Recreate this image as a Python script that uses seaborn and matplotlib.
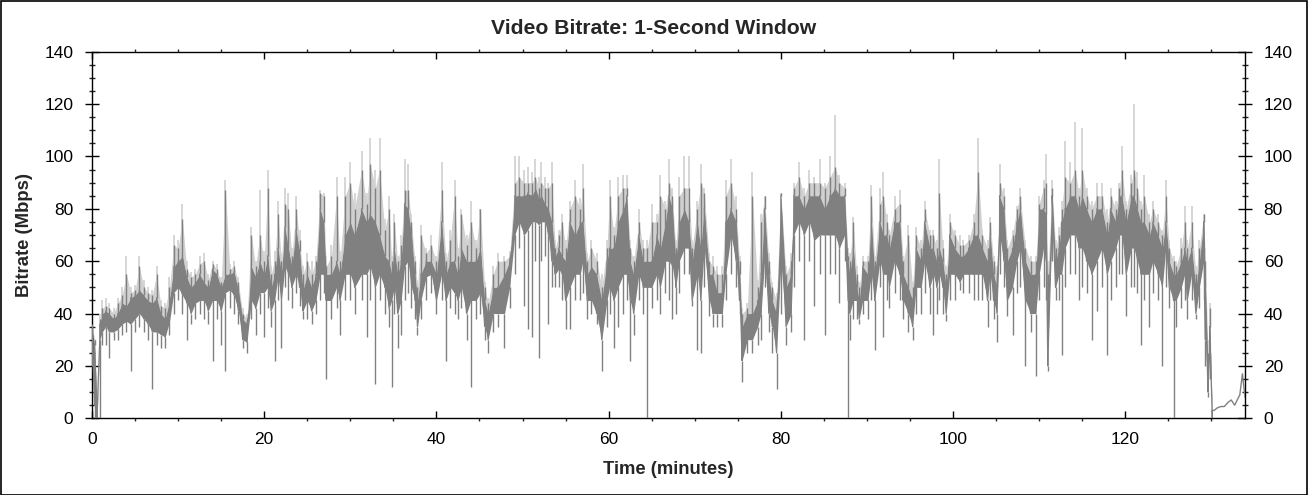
import numpy as np
import pandas as pd
import seaborn as sns
import matplotlib
matplotlib.use("Agg")
import matplotlib.pyplot as plt
from matplotlib.patches import Rectangle
from matplotlib.ticker import MultipleLocator

# ---- data (minutes, Mbps) ----
rows = [
    (0.0, 25, 34, 36, 36, 20), (0.3, 5, 28, 30, 30, 0), (0.6, 0, 3, 3, 3, 0), (0.9, 30, 36, 38, 40, 0),
    (1.2, 33, 40, 42, 45, 28), (1.6, 35, 41, 43, 46, 28), (2.0, 33, 40, 42, 44, 23), (2.5, 33, 38, 40, 42, 30),
    (3.0, 34, 40, 44, 46, 30), (3.5, 36, 44, 47, 50, 32), (4.0, 37, 43, 55, 62, 33), (4.5, 36, 46, 48, 50, 18),
    (5.0, 38, 47, 49, 51, 33), (5.5, 40, 49, 58, 62, 35), (6.0, 38, 47, 50, 53, 33), (6.5, 36, 45, 48, 50, 30),
    (7.0, 33, 44, 47, 49, 11), (7.5, 33, 46, 55, 58, 28), (8.0, 32, 40, 43, 45, 27), (8.5, 31, 38, 42, 44, 27),
    (9.0, 37, 45, 50, 54, 32), (9.5, 48, 58, 66, 70, 40), (10.0, 50, 60, 65, 68, 45), (10.5, 47, 62, 76, 82, 40),
    (11.0, 44, 54, 57, 60, 30), (11.5, 40, 50, 54, 56, 36), (12.0, 44, 52, 55, 57, 38), (12.5, 45, 55, 59, 62, 40),
    (13.0, 45, 52, 60, 63, 38), (13.5, 41, 50, 53, 55, 36), (14.0, 45, 57, 59, 60, 22), (14.5, 45, 55, 57, 59, 38),
    (15.0, 41, 50, 52, 54, 28), (15.5, 48, 55, 87, 91, 18), (16.0, 49, 55, 57, 59, 42), (16.5, 47, 56, 58, 60, 40),
    (17.0, 41, 49, 52, 54, 36), (17.5, 30, 38, 40, 42, 27), (18.0, 29, 36, 38, 40, 25), (18.5, 45, 58, 70, 73, 38),
    (19.0, 42, 54, 58, 60, 32), (19.5, 48, 60, 70, 87, 40), (20.0, 48, 55, 60, 64, 31), (20.4, 50, 62, 88, 95, 42),
    (20.8, 41, 50, 55, 58, 35), (21.2, 45, 55, 60, 64, 22), (21.6, 54, 65, 78, 83, 45), (22.0, 45, 55, 60, 63, 27),
    (22.4, 58, 73, 82, 88, 50), (22.8, 55, 65, 80, 86, 45), (23.2, 50, 58, 62, 65, 42), (23.7, 55, 72, 80, 85, 48),
    (24.1, 50, 64, 68, 72, 43), (24.5, 41, 49, 55, 58, 38), (25.0, 45, 55, 60, 63, 38), (25.5, 41, 50, 55, 60, 36),
    (26.0, 45, 55, 60, 62, 40), (26.5, 55, 80, 86, 87, 45), (26.9, 55, 75, 85, 86, 48), (27.2, 45, 55, 58, 62, 15),
    (27.8, 45, 55, 62, 66, 38), (28.4, 50, 60, 85, 92, 42), (28.8, 45, 55, 60, 64, 32), (29.4, 55, 70, 85, 92, 45),
    (30.0, 55, 75, 90, 98, 45), (30.5, 50, 70, 80, 86, 40), (31.3, 55, 80, 95, 102, 45), (31.9, 55, 75, 82, 86, 31),
    (32.3, 58, 78, 97, 107, 45), (32.9, 50, 75, 88, 95, 13), (33.4, 55, 70, 95, 107, 45), (34.0, 50, 62, 72, 76, 40),
    (34.5, 42, 60, 80, 85, 35), (34.8, 45, 55, 60, 62, 12), (35.1, 50, 65, 75, 78, 40), (35.5, 40, 55, 60, 62, 27),
    (35.9, 45, 60, 66, 70, 32), (36.3, 58, 82, 87, 99, 45), (36.7, 60, 80, 87, 97, 48), (37.1, 50, 70, 75, 78, 42),
    (37.5, 45, 55, 60, 62, 38), (37.8, 35, 45, 50, 53, 32), (38.2, 45, 55, 70, 74, 38), (38.8, 54, 60, 63, 65, 45),
    (39.4, 55, 60, 66, 70, 48), (40.0, 45, 55, 60, 62, 40), (40.6, 55, 75, 87, 98, 45), (41.1, 45, 55, 60, 63, 22),
    (41.6, 50, 60, 68, 72, 42), (42.1, 48, 60, 85, 91, 40), (42.5, 45, 55, 62, 65, 38), (42.9, 50, 65, 78, 80, 42),
    (43.5, 40, 60, 66, 70, 30), (44.0, 45, 60, 75, 83, 12), (44.6, 45, 60, 65, 68, 38), (45.1, 48, 65, 80, 80, 40),
    (45.6, 35, 45, 50, 52, 30), (46.0, 30, 40, 44, 46, 25), (46.6, 40, 50, 55, 58, 33), (47.1, 40, 50, 60, 63, 35),
    (47.9, 40, 55, 60, 62, 27), (48.5, 50, 60, 62, 64, 42), (49.1, 70, 85, 90, 100, 55), (49.6, 75, 85, 92, 100, 65),
    (50.2, 70, 85, 90, 95, 43), (50.6, 72, 86, 90, 96, 34), (51.1, 75, 85, 90, 94, 31), (51.5, 75, 88, 92, 99, 60),
    (51.9, 74, 84, 88, 92, 23), (52.2, 75, 85, 90, 98, 60), (52.6, 75, 82, 88, 92, 62), (53.0, 70, 80, 88, 90, 36),
    (53.4, 60, 75, 90, 98, 50), (53.8, 55, 62, 65, 68, 50), (54.2, 57, 65, 70, 72, 50), (54.6, 55, 62, 75, 78, 45),
    (55.0, 45, 60, 65, 68, 34), (55.5, 50, 75, 80, 83, 34), (56.1, 55, 70, 85, 91, 45), (56.7, 55, 75, 80, 84, 45),
    (57.0, 60, 75, 88, 97, 48), (57.5, 45, 55, 60, 63, 38), (58.0, 45, 58, 65, 68, 40), (58.6, 40, 55, 60, 63, 36),
    (59.2, 30, 45, 50, 55, 18), (59.8, 45, 60, 65, 68, 35), (60.1, 50, 65, 85, 91, 40), (60.6, 45, 65, 70, 73, 27),
    (61.1, 50, 75, 85, 92, 35), (61.7, 55, 80, 88, 93, 40), (62.1, 55, 85, 88, 93, 45), (62.5, 45, 60, 65, 68, 22),
    (62.9, 40, 55, 60, 62, 32), (63.5, 55, 70, 75, 80, 45), (64.0, 50, 60, 65, 68, 40), (64.5, 50, 60, 65, 68, 0),
    (65.0, 50, 60, 75, 82, 42), (65.6, 55, 70, 75, 78, 45), (66.0, 50, 65, 85, 93, 40), (66.6, 60, 75, 80, 83, 48),
    (67.0, 60, 85, 90, 99, 45), (67.4, 58, 80, 85, 88, 38), (67.8, 50, 60, 65, 68, 40), (68.2, 60, 75, 85, 92, 48),
    (68.8, 65, 80, 88, 100, 55), (69.3, 65, 75, 88, 100, 55), (69.7, 45, 60, 65, 68, 43), (70.3, 55, 75, 80, 83, 26),
    (70.7, 45, 65, 90, 97, 25), (71.1, 65, 80, 86, 88, 50), (71.7, 45, 55, 60, 63, 39), (72.1, 40, 55, 58, 62, 35),
    (72.6, 40, 48, 55, 58, 35), (73.2, 40, 48, 55, 58, 35), (73.6, 55, 75, 85, 91, 45), (74.2, 70, 80, 90, 99, 55),
    (74.8, 60, 75, 80, 85, 50), (75.2, 45, 55, 60, 62, 40), (75.5, 22, 35, 40, 42, 14), (76.1, 30, 40, 42, 44, 25),
    (76.7, 30, 40, 85, 94, 25), (77.3, 35, 45, 50, 53, 28), (77.7, 40, 55, 75, 78, 30), (78.1, 60, 80, 85, 85, 50),
    (78.6, 40, 55, 60, 63, 33), (79.0, 35, 45, 50, 52, 25), (79.5, 25, 40, 45, 48, 11), (80.0, 60, 85, 86, 86, 40),
    (80.6, 35, 50, 55, 58, 28), (81.2, 40, 55, 60, 63, 33), (81.5, 70, 85, 88, 90, 50), (82.1, 75, 85, 92, 98, 60),
    (82.7, 70, 80, 85, 88, 30), (83.3, 75, 85, 90, 95, 60), (83.9, 68, 85, 90, 92, 43), (84.5, 70, 85, 90, 99, 55),
    (85.1, 70, 80, 88, 90, 32), (85.7, 70, 85, 92, 100, 55), (86.3, 70, 88, 96, 116, 55), (86.8, 65, 85, 90, 93, 44),
    (87.4, 70, 85, 88, 90, 60), (87.8, 45, 60, 62, 65, 0), (88.0, 40, 55, 60, 63, 30), (88.4, 45, 65, 75, 77, 38),
    (88.8, 45, 50, 55, 58, 38), (89.1, 38, 45, 50, 52, 36), (89.5, 45, 58, 60, 62, 40), (90.1, 45, 55, 60, 62, 38),
    (90.5, 55, 75, 85, 89, 45), (90.9, 45, 55, 60, 62, 26), (91.5, 60, 75, 82, 88, 50), (91.9, 55, 70, 85, 94, 31),
    (92.3, 55, 70, 75, 78, 45), (92.6, 50, 65, 70, 72, 42), (93.2, 60, 75, 80, 85, 48), (93.8, 55, 75, 82, 87, 45),
    (94.2, 45, 55, 60, 62, 38), (94.8, 40, 50, 70, 74, 33), (95.3, 35, 45, 50, 52, 30), (95.7, 50, 65, 70, 73, 40),
    (96.3, 50, 60, 65, 68, 40), (96.7, 60, 75, 80, 83, 48), (97.3, 50, 65, 70, 72, 40), (97.7, 55, 65, 70, 72, 32),
    (98.1, 50, 60, 65, 68, 40), (98.4, 55, 65, 86, 99, 45), (98.8, 50, 60, 65, 68, 40), (99.2, 40, 50, 55, 58, 37),
    (99.6, 55, 70, 75, 78, 45), (100.2, 55, 65, 70, 72, 45), (100.8, 52, 62, 66, 70, 49), (101.2, 55, 62, 66, 68, 48),
    (101.8, 55, 65, 68, 70, 48), (102.4, 55, 70, 75, 78, 45), (102.9, 55, 70, 94, 107, 45), (103.4, 55, 65, 70, 72, 45),
    (104.0, 45, 60, 65, 68, 35), (104.3, 55, 70, 75, 77, 45), (104.7, 45, 55, 60, 62, 38), (105.1, 40, 50, 55, 58, 29),
    (105.4, 70, 85, 90, 97, 55), (105.9, 60, 80, 85, 88, 50), (106.3, 45, 60, 65, 68, 39), (106.9, 50, 65, 70, 72, 32),
    (107.4, 60, 75, 80, 81, 48), (107.8, 65, 80, 85, 88, 50), (108.4, 45, 60, 65, 68, 20), (109.0, 40, 55, 60, 62, 33),
    (109.6, 40, 55, 60, 62, 16), (110.0, 55, 80, 82, 85, 45), (110.5, 65, 80, 88, 91, 50), (110.8, 60, 78, 90, 101, 45),
    (111.0, 20, 35, 55, 60, 18), (111.5, 75, 85, 88, 91, 60), (111.9, 50, 60, 65, 68, 45), (112.3, 55, 65, 70, 73, 45),
    (112.6, 55, 75, 80, 83, 24), (113.0, 65, 80, 92, 106, 50), (113.6, 70, 85, 90, 98, 55), (114.2, 70, 85, 95, 113, 55),
    (114.6, 65, 80, 85, 88, 45), (115.0, 65, 85, 95, 111, 50), (115.5, 60, 80, 85, 88, 48), (116.1, 55, 75, 80, 83, 30),
    (116.7, 60, 80, 85, 90, 41), (117.3, 65, 80, 85, 90, 50), (117.9, 55, 70, 75, 80, 24), (118.3, 60, 80, 85, 88, 45),
    (118.9, 65, 75, 80, 83, 50), (119.3, 70, 85, 88, 90, 55), (119.6, 70, 85, 95, 104, 55), (120.1, 55, 75, 80, 83, 39),
    (120.7, 65, 85, 90, 93, 50), (121.0, 65, 85, 95, 120, 50), (121.4, 60, 80, 88, 94, 48), (121.8, 55, 75, 80, 83, 28),
    (122.2, 55, 75, 85, 93, 45), (122.8, 55, 70, 75, 78, 35), (123.2, 60, 75, 80, 83, 48), (123.8, 55, 70, 75, 78, 45),
    (124.3, 50, 65, 70, 72, 20), (124.7, 65, 75, 85, 91, 50), (125.1, 50, 60, 65, 68, 42), (125.6, 45, 55, 60, 62, 0),
    (125.9, 45, 55, 58, 60, 35), (126.5, 50, 60, 65, 69, 42), (126.9, 55, 65, 75, 81, 45), (127.2, 45, 60, 65, 68, 38),
    (127.7, 55, 65, 75, 81, 45), (128.2, 40, 50, 55, 58, 38), (128.6, 50, 60, 65, 68, 42), (129.1, 60, 75, 78, 78, 45),
    (129.3, 30, 50, 60, 65, 20), (129.6, 10, 20, 25, 30, 8), (129.8, 25, 35, 42, 44, 15), (130.1, 0, 3, 3, 3, 0),
]
minutes = [r[0] for r in rows]
band_lo = [r[1] for r in rows]
band_hi = [r[2] for r in rows]
dark_peak = [r[3] for r in rows]
light_peak = [r[4] for r in rows]
dip_low = [r[5] for r in rows]

tail_minutes = [130.1, 130.3, 130.7, 131.1, 131.5, 131.9, 132.3, 132.7, 133.0, 133.3, 133.6, 133.9]
tail_mbps = [3, 3, 4, 4.5, 4.5, 6, 7, 5, 7, 9, 17, 8]

x_ticks = [0, 20, 40, 60, 80, 100, 120]
y_ticks = [0, 20, 40, 60, 80, 100, 120, 140]

# ---- style ----
sns.set_style("white")
plt.rcParams["font.family"] = ["Liberation Sans", "DejaVu Sans"]

DARK = "#808080"
LIGHT = "#d0d0d0"

fig = plt.figure(figsize=(13.08, 4.95), dpi=100)
ax = fig.add_axes([92 / 1308, 76.7 / 495, (1245 - 92) / 1308, (418.3 - 51.7) / 495])

df = pd.DataFrame({"t": minutes, "lo": band_lo, "hi": band_hi,
                   "dpk": dark_peak, "lpk": light_peak, "dip": dip_low})

# light halo above the core band, and light peaks (behind)
ax.fill_between(df["t"], df["hi"], df["dpk"], color=LIGHT, linewidth=0, zorder=1)
ax.vlines(df["t"], df["hi"], df["lpk"], color=LIGHT, linewidth=1.2, zorder=1)
# dark core band
ax.fill_between(df["t"], df["lo"], df["hi"], color=DARK, linewidth=0, zorder=2)
# zig-zag trace through the band values (seaborn line)
zig = pd.DataFrame({
    "t": np.repeat(df["t"].to_numpy(), 2),
    "v": np.column_stack([df["lo"].to_numpy(), df["hi"].to_numpy()]).ravel(),
})
sns.lineplot(data=zig, x="t", y="v", ax=ax, sort=False, estimator=None,
             color=DARK, linewidth=0.9, zorder=3)
# dark peaks and dips
ax.vlines(df["t"], df["hi"], df["dpk"], color=DARK, linewidth=1.0, zorder=3)
ax.vlines(df["t"], df["dip"], df["lo"], color=DARK, linewidth=1.0, zorder=3)
# thin tail after the main content
tail = pd.DataFrame({"t": tail_minutes, "v": tail_mbps})
sns.lineplot(data=tail, x="t", y="v", ax=ax, color=DARK, linewidth=1.0, zorder=3)

ax.set_xlim(0, 133.9)
ax.set_ylim(0, 140)
ax.set_xticks(x_ticks)
ax.set_yticks(y_ticks)
ax.xaxis.set_minor_locator(MultipleLocator(5))
ax.yaxis.set_minor_locator(MultipleLocator(5))

for s in ax.spines.values():
    s.set_color("black")
    s.set_linewidth(1.0)

ax.tick_params(axis="y", which="major", direction="inout", length=10, width=1,
               left=True, right=True, labelleft=True, labelright=True,
               labelsize=12.5, pad=8.5, colors="black")
ax.tick_params(axis="y", which="minor", direction="inout", length=5, width=1,
               left=True, right=True)
ax.tick_params(axis="x", which="major", direction="in", length=5, width=1,
               bottom=True, top=True, labelsize=12.5, pad=10, colors="black")
ax.tick_params(axis="x", which="minor", direction="out", length=2.5, width=1,
               bottom=True, top=True)

ax.set_xlabel("Time (minutes)", fontsize=13.3, fontweight="bold", labelpad=10)
ax.set_ylabel("Bitrate (Mbps)", fontsize=13.3, fontweight="bold", labelpad=8)
ax.set_title("Video Bitrate: 1-Second Window", fontsize=15.2, fontweight="bold", pad=13,
             x=(654 - 92) / 1153)
ax.grid(False)

fig.patches.append(Rectangle((0.5 / 1308, 0.5 / 495), 1 - 1.5 / 1308, 1 - 1.5 / 495,
                             transform=fig.transFigure, fill=False,
                             edgecolor="black", linewidth=1.2))

fig.savefig("out.png", dpi=100, facecolor="white")
